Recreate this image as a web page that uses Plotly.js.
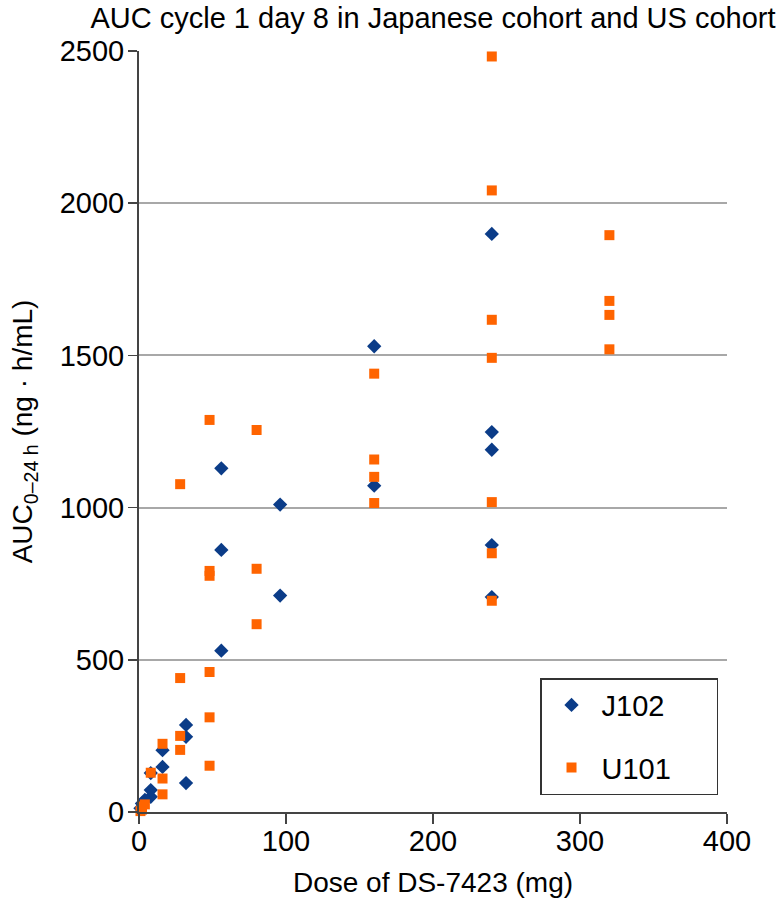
<!DOCTYPE html>
<html>
<head>
<meta charset="utf-8">
<script src="https://cdn.plot.ly/plotly-3.0.1.min.js"></script>
<style>
  html, body { margin: 0; padding: 0; background: #fff; }
  #chart { width: 777px; height: 904px; }
</style>
</head>
<body>
<div id="chart"></div>
<script>
// J102 (Japanese cohort) – dose (mg) and AUC0-24h (ng·h/mL)
const j102Dose = [1, 2, 4, 8, 8, 8, 16, 16, 32, 32, 32, 56, 56, 56, 96, 96, 160, 160, 240, 240, 240, 240, 240];
const j102Auc  = [12, 28, 40, 50, 72, 128, 148, 203, 95, 247, 286, 530, 861, 1129, 711, 1010, 1072, 1530, 706, 877, 1190, 1248, 1899];

// U101 (US cohort)
const u101Dose = [1, 2, 2, 4, 8, 16, 16, 16, 28, 28, 28, 28, 48, 48, 48, 48, 48, 48, 80, 80, 80,
                  160, 160, 160, 160, 240, 240, 240, 240, 240, 240, 240, 320, 320, 320, 320];
const u101Auc  = [3, 8, 18, 25, 129, 58, 110, 224, 204, 250, 440, 1077, 152, 311, 460, 776, 792, 1288, 617, 799, 1255,
                  1015, 1101, 1158, 1440, 694, 850, 1018, 1492, 1617, 2042, 2482, 1520, 1633, 1679, 1895];

const xTicks = [0, 100, 200, 300, 400];
const yTicks = [0, 500, 1000, 1500, 2000, 2500];

const FONT = 'Liberation Sans, Arial, Helvetica, sans-serif';
const PAD = '\u00a0\u00a0\u00a0\u00a0\u00a0';

const data = [
  {
    type: 'scatter',
    mode: 'markers',
    name: 'J102' + PAD,
    legendgroup: 'a',
    x: j102Dose,
    y: j102Auc,
    marker: { symbol: 'diamond', size: 11, color: '#0b3c88' },
    cliponaxis: false
  },
  {
    type: 'scatter',
    mode: 'markers',
    name: 'U101' + PAD,
    legendgroup: 'b',
    x: u101Dose,
    y: u101Auc,
    marker: { symbol: 'square', size: 10, color: '#ff6400' },
    cliponaxis: false
  }
];

const layout = {
  width: 777,
  height: 904,
  margin: { l: 139, r: 50, t: 51, b: 92 },
  paper_bgcolor: '#fff',
  plot_bgcolor: '#fff',
  font: { family: FONT, size: 29, color: '#000' },
  title: {
    text: 'AUC cycle 1 day 8 in Japanese cohort and US cohort',
    font: { family: FONT, size: 29, color: '#000' },
    x: 0.5, xref: 'paper', xanchor: 'center',
    y: 0.98, yref: 'container', yanchor: 'middle'
  },
  xaxis: {
    range: [0, 400],
    tickvals: xTicks,
    ticks: 'outside', ticklen: 10, tickwidth: 1.5, tickcolor: '#444',
    ticklabelstandoff: -8,
    showline: true, linecolor: '#444', linewidth: 2,
    showgrid: false, zeroline: false,
    tickfont: { size: 29 },
    title: { text: 'Dose of DS-7423 (mg)', font: { size: 28 }, standoff: 17 },
    fixedrange: true
  },
  yaxis: {
    range: [0, 2500],
    tickvals: yTicks,
    ticks: 'outside', ticklen: 9, tickwidth: 1.5, tickcolor: '#444',
    ticklabelstandoff: -2,
    showline: true, linecolor: '#444', linewidth: 2,
    showgrid: true, gridcolor: '#a8a8a8', gridwidth: 2,
    zeroline: false,
    tickfont: { size: 29 },
    title: { text: 'AUC<sub>0–24 h</sub> (ng · h/mL)', font: { size: 28 }, standoff: 19 },
    fixedrange: true
  },
  showlegend: true,
  legend: {
    x: 0.682, xanchor: 'left',
    y: 0.176, yanchor: 'top',
    bgcolor: '#fff',
    bordercolor: '#333', borderwidth: 1.5,
    font: { size: 29 },
    itemwidth: 50,
    traceorder: 'grouped',
    tracegroupgap: 22
  }
};

Plotly.newPlot('chart', data, layout, { displayModeBar: false, staticPlot: true });
</script>
</body>
</html>
